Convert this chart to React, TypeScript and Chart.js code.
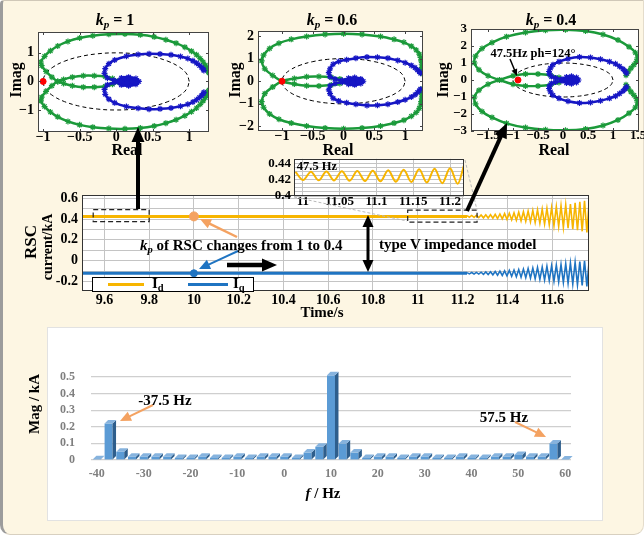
import React, { useEffect, useRef } from "react";
import { Chart, registerables } from "chart.js";
Chart.register(...registerables);

const FONT = "'Liberation Serif', 'Times New Roman', serif";
Chart.defaults.font.family = FONT;
Chart.defaults.color = "#000";

const GREEN = "#1B9A3A";
const BLUE = "#1616C4";
const YEL = "#F7B500";
const LBLUE = "#1F74C2";
const ORANGE = "#F4A261";

// ---------------- Nyquist data (Real, Imag) ----------------
const unitCircleX = [1, 0.966, 0.866, 0.707, 0.5, 0.259, 0, -0.259, -0.5, -0.707, -0.866, -0.966, -1, -0.966, -0.866, -0.707, -0.5, -0.259, 0, 0.259, 0.5, 0.707, 0.866, 0.966, 1];
const unitCircleY = [0, 0.259, 0.5, 0.707, 0.866, 0.966, 1, 0.966, 0.866, 0.707, 0.5, 0.259, 0, -0.259, -0.5, -0.707, -0.866, -0.966, -1, -0.966, -0.866, -0.707, -0.5, -0.259, 0];

// kp = 1
const kp1GreenA = [[0.02,0],[-0.05,0.1],[-0.15,0.17],[-0.3,0.2],[-0.45,0.2],[-0.6,0.15],[-0.72,0.07],[-0.8,0],[-0.88,-0.15],[-0.96,-0.35],[-1.02,-0.55],[-1.03,-0.68],[-0.98,-0.88],[-0.9,-1.07],[-0.8,-1.24],[-0.66,-1.4],[-0.5,-1.52],[-0.32,-1.6],[-0.1,-1.65],[0.12,-1.66],[0.33,-1.63],[0.52,-1.56],[0.68,-1.46],[0.82,-1.34],[0.94,-1.2],[1.03,-1.06],[1.1,-0.93],[1.15,-0.8],[1.19,-0.68],[1.22,-0.57],[1.24,-0.48],[1.25,-0.41],[1.26,-0.35],[1.27,-0.3]];
const kp1GreenB = [[0.02,0],[-0.05,-0.1],[-0.15,-0.17],[-0.3,-0.2],[-0.45,-0.2],[-0.6,-0.15],[-0.72,-0.07],[-0.8,0],[-0.88,0.15],[-0.96,0.35],[-1.02,0.55],[-1.03,0.68],[-0.98,0.88],[-0.9,1.07],[-0.8,1.24],[-0.66,1.4],[-0.5,1.52],[-0.32,1.6],[-0.1,1.65],[0.12,1.66],[0.33,1.63],[0.52,1.56],[0.68,1.46],[0.82,1.34],[0.94,1.2],[1.03,1.06],[1.1,0.93],[1.15,0.8],[1.19,0.68],[1.22,0.57],[1.24,0.48],[1.25,0.41],[1.26,0.35],[1.27,0.3]];
const kp1BlueA = [[-0.03,0.04],[-0.12,0.12],[-0.16,0.28],[-0.15,0.45],[-0.1,0.62],[-0.02,0.75],[0.14,0.88],[0.3,0.94],[0.45,0.97],[0.6,0.96],[0.75,0.93],[0.88,0.87],[0.98,0.8],[1.05,0.72],[1.1,0.64],[1.14,0.56],[1.17,0.49],[1.19,0.43],[1.2,0.38]];
const kp1BlueB = [[-0.03,-0.04],[-0.12,-0.12],[-0.16,-0.28],[-0.15,-0.45],[-0.1,-0.62],[-0.02,-0.75],[0.14,-0.88],[0.3,-0.94],[0.45,-0.97],[0.6,-0.96],[0.75,-0.93],[0.88,-0.87],[0.98,-0.8],[1.05,-0.72],[1.1,-0.64],[1.14,-0.56],[1.17,-0.49],[1.19,-0.43],[1.2,-0.38]];
const kp1Blob = [[0.03,0],[0.07,0.12],[0.17,0.15],[0.27,0.1],[0.31,0],[0.27,-0.1],[0.17,-0.15],[0.07,-0.12],[0.03,0],[0.1,0.07],[0.2,0.09],[0.26,0.03],[0.26,-0.03],[0.2,-0.09],[0.1,-0.07],[0.04,0],[0.15,0.04],[0.22,0],[0.15,-0.04],[0.06,0]];
const kp1Dot = [-1, 0];

// kp = 0.6
const kp06GreenA = [[0.02,0],[-0.06,0.1],[-0.2,0.17],[-0.4,0.21],[-0.6,0.2],[-0.8,0.12],[-1.0,0],[-1.15,-0.25],[-1.28,-0.55],[-1.33,-0.9],[-1.3,-1.15],[-1.2,-1.45],[-1.05,-1.68],[-0.85,-1.85],[-0.6,-1.98],[-0.3,-2.07],[0,-2.1],[0.3,-2.07],[0.6,-1.98],[0.82,-1.85],[0.98,-1.72],[1.1,-1.55],[1.18,-1.38],[1.23,-1.2],[1.25,-1.05],[1.26,-0.9],[1.27,-0.75],[1.27,-0.6],[1.27,-0.45],[1.27,-0.35]];
const kp06GreenB = [[0.02,0],[-0.06,-0.1],[-0.2,-0.17],[-0.4,-0.21],[-0.6,-0.2],[-0.8,-0.12],[-1.0,0],[-1.15,0.25],[-1.28,0.55],[-1.33,0.9],[-1.3,1.15],[-1.2,1.45],[-1.05,1.68],[-0.85,1.85],[-0.6,1.98],[-0.3,2.07],[0,2.1],[0.3,2.07],[0.6,1.98],[0.82,1.85],[0.98,1.72],[1.1,1.55],[1.18,1.38],[1.23,1.2],[1.25,1.05],[1.26,0.9],[1.27,0.75],[1.27,0.6],[1.27,0.45],[1.27,0.35]];
const kp06BlueA = [[-0.02,0.04],[-0.14,0.1],[-0.22,0.2],[-0.24,0.38],[-0.22,0.55],[-0.17,0.75],[-0.08,0.87],[0.05,0.95],[0.2,1.02],[0.38,1.07],[0.55,1.06],[0.72,1.02],[0.88,0.92],[1.0,0.82],[1.1,0.7],[1.16,0.6],[1.2,0.5],[1.23,0.42],[1.25,0.35]];
const kp06BlueB = [[-0.02,-0.04],[-0.14,-0.1],[-0.22,-0.2],[-0.24,-0.38],[-0.22,-0.55],[-0.17,-0.75],[-0.08,-0.87],[0.05,-0.95],[0.2,-1.02],[0.38,-1.07],[0.55,-1.06],[0.72,-1.02],[0.88,-0.92],[1.0,-0.82],[1.1,-0.7],[1.16,-0.6],[1.2,-0.5],[1.23,-0.42],[1.25,-0.35]];
const kp06Blob = [[0.03,0],[0.08,0.13],[0.18,0.16],[0.28,0.1],[0.32,0],[0.28,-0.1],[0.18,-0.16],[0.08,-0.13],[0.03,0],[0.1,0.08],[0.2,0.1],[0.27,0.04],[0.27,-0.04],[0.2,-0.1],[0.1,-0.08],[0.04,0],[0.15,0.05],[0.23,0],[0.15,-0.05],[0.06,0]];
const kp06Dot = [-1, 0];

// kp = 0.4
const kp04GreenA = [[0.02,0],[-0.08,0.15],[-0.25,0.28],[-0.5,0.35],[-0.75,0.35],[-1.0,0.25],[-1.27,0],[-1.5,-0.25],[-1.68,-0.6],[-1.77,-1.0],[-1.75,-1.4],[-1.62,-1.85],[-1.42,-2.2],[-1.13,-2.55],[-0.75,-2.8],[-0.35,-2.93],[0.05,-2.96],[0.45,-2.88],[0.8,-2.68],[1.1,-2.35],[1.32,-1.95],[1.45,-1.6],[1.49,-1.3],[1.47,-1.1],[1.42,-0.9],[1.36,-0.7],[1.31,-0.52],[1.28,-0.38],[1.26,-0.28]];
const kp04GreenB = [[0.02,0],[-0.08,-0.15],[-0.25,-0.28],[-0.5,-0.35],[-0.75,-0.35],[-1.0,-0.25],[-1.27,0],[-1.5,0.25],[-1.68,0.6],[-1.77,1.0],[-1.75,1.4],[-1.62,1.85],[-1.42,2.2],[-1.13,2.55],[-0.75,2.8],[-0.35,2.93],[0.05,2.96],[0.45,2.88],[0.8,2.68],[1.1,2.35],[1.32,1.95],[1.45,1.6],[1.49,1.3],[1.47,1.1],[1.42,0.9],[1.36,0.7],[1.31,0.52],[1.28,0.38],[1.26,0.28]];
const kp04BlueA = [[-0.02,0.05],[-0.15,0.12],[-0.23,0.2],[-0.27,0.35],[-0.28,0.5],[-0.25,0.7],[-0.2,0.9],[-0.08,1.08],[0.1,1.25],[0.33,1.35],[0.55,1.32],[0.75,1.22],[0.93,1.08],[1.05,0.95],[1.13,0.8],[1.2,0.65],[1.24,0.52],[1.27,0.4]];
const kp04BlueB = [[-0.02,-0.05],[-0.15,-0.12],[-0.23,-0.2],[-0.27,-0.35],[-0.28,-0.5],[-0.25,-0.7],[-0.2,-0.9],[-0.08,-1.08],[0.1,-1.25],[0.33,-1.35],[0.55,-1.32],[0.75,-1.22],[0.93,-1.08],[1.05,-0.95],[1.13,-0.8],[1.2,-0.65],[1.24,-0.52],[1.27,-0.4]];
const kp04Blob = [[0.03,0],[0.07,0.17],[0.17,0.22],[0.27,0.14],[0.31,0],[0.27,-0.14],[0.17,-0.22],[0.07,-0.17],[0.03,0],[0.1,0.1],[0.2,0.12],[0.26,0.05],[0.26,-0.05],[0.2,-0.12],[0.1,-0.1],[0.04,0],[0.15,0.06],[0.22,0],[0.15,-0.06],[0.06,0]];
const kp04Dot = [-0.9, 0];

const nyqXTicks12 = [-1, -0.5, 0, 0.5, 1];
const nyqXTicks3 = [-1.5, -1, -0.5, 0, 0.5, 1, 1.5];
const nyqYTicks1 = [-1, 0, 1];
const nyqYTicks2 = [-2, -1, 0, 1, 2];
const nyqYTicks3 = [-3, -2, -1, 0, 1, 2, 3];

// ---------------- Time-domain data ----------------
const timeSteady = [9.5, 11.22];
const idSteady = [0.425, 0.425];
const iqSteady = [-0.12, -0.12];
const oscTime = [11.22,11.2305,11.241,11.2515,11.262,11.2725,11.283,11.2935,11.304,11.3145,11.325,11.3355,11.346,11.3565,11.367,11.3775,11.388,11.3985,11.409,11.4195,11.43,11.4405,11.451,11.4615,11.472,11.4825,11.493,11.5035,11.514,11.5245,11.535,11.5455,11.556,11.5665,11.577,11.5875,11.598,11.6085,11.619,11.6295,11.64,11.6505,11.661,11.6715,11.682,11.6925,11.703,11.7135,11.724,11.7345,11.745,11.7555,11.766];
const idOsc = [0.433,0.417,0.434,0.416,0.436,0.414,0.438,0.411,0.44,0.409,0.442,0.407,0.445,0.404,0.448,0.401,0.452,0.397,0.455,0.393,0.46,0.389,0.465,0.383,0.47,0.378,0.476,0.372,0.482,0.366,0.488,0.359,0.495,0.352,0.502,0.345,0.51,0.337,0.518,0.329,0.527,0.32,0.535,0.311,0.544,0.302,0.554,0.292,0.564,0.282,0.574,0.271,0.58];
const iqOsc = [-0.114,-0.126,-0.113,-0.127,-0.112,-0.128,-0.11,-0.13,-0.108,-0.132,-0.106,-0.135,-0.103,-0.138,-0.1,-0.141,-0.097,-0.145,-0.093,-0.149,-0.089,-0.153,-0.085,-0.157,-0.08,-0.162,-0.075,-0.167,-0.07,-0.173,-0.065,-0.178,-0.06,-0.184,-0.054,-0.19,-0.048,-0.196,-0.042,-0.202,-0.036,-0.209,-0.029,-0.216,-0.022,-0.223,-0.015,-0.23,-0.008,-0.237,-0.001,-0.245,0.005];
const markTime = [10];
const markId = [0.425];
const markIq = [-0.12];
const mainXTicks = [9.6, 9.8, 10, 10.2, 10.4, 10.6, 10.8, 11, 11.2, 11.4, 11.6];
const mainYTicks = [-0.2, -0.1, 0, 0.1, 0.2, 0.3, 0.4, 0.5, 0.6];
const zoomBoxes = [
  { x0: 9.55, x1: 9.8, y0: 0.375, y1: 0.49 },
  { x0: 10.955, x1: 11.265, y0: 0.37, y1: 0.485 },
];

// inset (zoom of 10.99 - 11.22 s)
const insetTime = [10.99,11.0005,11.011,11.0215,11.032,11.0425,11.053,11.0635,11.074,11.0845,11.095,11.1055,11.116,11.1265,11.137,11.1475,11.158,11.1685,11.179,11.1895,11.2,11.2105,11.219];
const insetId = [0.4295,0.4195,0.4298,0.4192,0.43,0.419,0.4303,0.4187,0.4306,0.4183,0.431,0.418,0.4315,0.4175,0.432,0.417,0.4326,0.4164,0.4333,0.4157,0.434,0.415,0.4375];
const insetXTicks = [11, 11.05, 11.1, 11.15, 11.2];
const insetYTicks = [0.4, 0.405, 0.41, 0.415, 0.42, 0.425, 0.43, 0.435, 0.44, 0.445];

// ---------------- Spectrum data ----------------
const fftFreq = [-40,-37.5,-35,-32.5,-30,-27.5,-25,-22.5,-20,-17.5,-15,-12.5,-10,-7.5,-5,-2.5,0,2.5,5,7.5,10,12.5,15,17.5,20,22.5,25,27.5,30,32.5,35,37.5,40,42.5,45,47.5,50,52.5,55,57.5,60];
const fftMag = [0.005,0.22,0.05,0.02,0.02,0.02,0.02,0.012,0.012,0.02,0.012,0.012,0.02,0.012,0.02,0.02,0.02,0.012,0.045,0.08,0.51,0.1,0.045,0.012,0.02,0.02,0.012,0.02,0.02,0.012,0.012,0.02,0.012,0.012,0.02,0.02,0.03,0.02,0.02,0.1,0.003];
const fftYTicks = [0, 0.1, 0.2, 0.3, 0.4, 0.5];

// ---------------- helpers ----------------
type Box = { left: number; top: number; width: number; height: number };
type Area = { l: number; t: number; r: number; b: number };

const P = (arr: number[][]) => arr.map(([x, y]) => ({ x, y }));
const Z = (xs: number[], ys: number[]) => xs.map((x, i) => ({ x, y: ys[i] }));

function fit(box: Box, area: Area) {
  return {
    padding: { top: area.t - box.top, right: box.left + box.width - area.r, left: 0, bottom: 0 },
    yFit: (s: any) => { s.width = area.l - box.left; },
    xFit: (s: any) => { s.height = box.top + box.height - area.b; },
  };
}

const areaBg = {
  id: "areaBg",
  beforeDraw(chart: any) {
    const { ctx, chartArea: a } = chart;
    ctx.save();
    ctx.fillStyle = "#fff";
    ctx.fillRect(a.left, a.top, a.width, a.height);
    ctx.restore();
  },
};

const frame = {
  id: "frame",
  afterDraw(chart: any, _a: any, opts: any) {
    const { ctx, chartArea: a, scales } = chart;
    ctx.save();
    ctx.strokeStyle = opts.color || "#333";
    ctx.lineWidth = 1;
    ctx.strokeRect(Math.round(a.left) + 0.5, Math.round(a.top) + 0.5, Math.round(a.width) - 1, Math.round(a.height) - 1);
    if (opts.ticks) {
      const L = opts.ticks;
      ctx.beginPath();
      scales.x.ticks.forEach((t: any) => {
        const x = Math.round(scales.x.getPixelForValue(t.value)) + 0.5;
        ctx.moveTo(x, a.bottom); ctx.lineTo(x, a.bottom - L);
        ctx.moveTo(x, a.top); ctx.lineTo(x, a.top + L);
      });
      scales.y.ticks.forEach((t: any) => {
        const y = Math.round(scales.y.getPixelForValue(t.value)) + 0.5;
        ctx.moveTo(a.left, y); ctx.lineTo(a.left + L, y);
        ctx.moveTo(a.right, y); ctx.lineTo(a.right - L, y);
      });
      ctx.stroke();
    }
    ctx.restore();
  },
};

const dashBoxes = {
  id: "dashBoxes",
  afterDatasetsDraw(chart: any, _a: any, opts: any) {
    const { ctx, scales } = chart;
    ctx.save();
    ctx.strokeStyle = "#222";
    ctx.lineWidth = 1.2;
    ctx.setLineDash([5, 3]);
    (opts.boxes || []).forEach((b: any) => {
      const x0 = scales.x.getPixelForValue(b.x0), x1 = scales.x.getPixelForValue(b.x1);
      const y0 = scales.y.getPixelForValue(b.y0), y1 = scales.y.getPixelForValue(b.y1);
      ctx.strokeRect(x0, y1, x1 - x0, y0 - y1);
    });
    ctx.restore();
  },
};

const bar3d = {
  id: "bar3d",
  afterDatasetsDraw(chart: any) {
    const meta = chart.getDatasetMeta(0);
    const ctx = chart.ctx;
    const d = 3.5, dy = 3.5;
    ctx.save();
    meta.data.forEach((bar: any) => {
      const { x, y, base, width } = bar.getProps(["x", "y", "base", "width"], true);
      const l = x - width / 2, r = x + width / 2;
      ctx.fillStyle = "#2E5E8C";
      ctx.beginPath();
      ctx.moveTo(r, y); ctx.lineTo(r + d, y - dy); ctx.lineTo(r + d, base - dy); ctx.lineTo(r, base);
      ctx.closePath(); ctx.fill();
      ctx.fillStyle = "#86B3DE";
      ctx.beginPath();
      ctx.moveTo(l, y); ctx.lineTo(l + d, y - dy); ctx.lineTo(r + d, y - dy); ctx.lineTo(r, y);
      ctx.closePath(); ctx.fill();
    });
    ctx.restore();
  },
};

const minus = (v: number, s: string) => (v < 0 ? "\u2212" + s.replace("-", "") : s);

function nyquistConfig(o: any) {
  const lay = fit(o.box, o.area);
  const line = (data: number[][], color: string, w: number, tension = 0.35) => ({
    data: P(data), showLine: true, borderColor: color, backgroundColor: color, borderWidth: w,
    pointStyle: "star", pointRadius: 3, pointBorderColor: color, pointBorderWidth: 1.2, tension,
  });
  const tickFont = { family: FONT, size: o.tickSize || 14, weight: "bold" as const };
  return {
    type: "scatter",
    data: {
      datasets: [
        { data: [{ x: o.dot[0], y: o.dot[1] }], pointRadius: 3, pointBackgroundColor: "#f00", pointBorderColor: "#f00", showLine: false },
        line(o.blob, BLUE, 2.5, 0.5),
        line(o.blueA, BLUE, 2.5),
        line(o.blueB, BLUE, 2.5),
        line(o.greenA, GREEN, 2.5),
        line(o.greenB, GREEN, 2.5),
        { data: Z(unitCircleX, unitCircleY), showLine: true, borderColor: "#000", borderWidth: 1, borderDash: [4, 3], pointRadius: 0, tension: 0.4 },
      ],
    },
    options: {
      responsive: false, animation: false, devicePixelRatio: 1, events: [],
      layout: { padding: lay.padding },
      plugins: { legend: { display: false }, tooltip: { enabled: false }, frame: { color: "#444", ticks: 3 } },
      scales: {
        x: {
          type: "linear", min: o.xr[0], max: o.xr[1],
          grid: { display: false, drawTicks: false }, border: { display: false },
          afterBuildTicks: (s: any) => { s.ticks = o.xTicks.map((v: number) => ({ value: v })); },
          ticks: { font: tickFont, color: "#000", padding: -3, autoSkip: false, maxRotation: 0, callback: (v: any) => minus(v, String(v)) },
          afterFit: lay.xFit,
        },
        y: {
          type: "linear", min: o.yr[0], max: o.yr[1],
          grid: { display: false, drawTicks: false }, border: { display: false },
          afterBuildTicks: (s: any) => { s.ticks = o.yTicks.map((v: number) => ({ value: v })); },
          ticks: { font: tickFont, color: "#000", padding: 4, autoSkip: false, callback: (v: any) => minus(v, String(v)) },
          afterFit: lay.yFit,
        },
      },
    },
    plugins: [areaBg, frame],
  };
}

const box1: Box = { left: 0, top: 15, width: 225, height: 140 };
const area1: Area = { l: 38, t: 32, r: 209, b: 132 };
const box2: Box = { left: 215, top: 15, width: 222, height: 140 };
const area2: Area = { l: 258, t: 31, r: 423, b: 131 };
const box3: Box = { left: 428, top: 12, width: 236, height: 143 };
const area3: Area = { l: 471, t: 29, r: 639, b: 131 };

function mainConfig() {
  const box: Box = { left: 0, top: 180, width: 610, height: 135 };
  const lay = fit(box, { l: 82, t: 195, r: 589, b: 291 });
  const tickFont = { family: FONT, size: 14, weight: "bold" as const };
  return {
    type: "scatter",
    data: {
      datasets: [
        { data: Z(markTime, markId), pointRadius: 4.5, pointBackgroundColor: ORANGE, pointBorderColor: ORANGE, showLine: false },
        { data: Z(markTime, markIq), pointRadius: 3.5, pointBackgroundColor: LBLUE, pointBorderColor: LBLUE, showLine: false },
        { data: Z(timeSteady, idSteady), showLine: true, borderColor: YEL, borderWidth: 3, pointRadius: 0 },
        { data: Z(oscTime, idOsc), showLine: true, borderColor: YEL, borderWidth: 1.6, pointRadius: 0 },
        { data: Z(timeSteady, iqSteady), showLine: true, borderColor: LBLUE, borderWidth: 3, pointRadius: 0 },
        { data: Z(oscTime, iqOsc), showLine: true, borderColor: LBLUE, borderWidth: 1.6, pointRadius: 0 },
      ],
    },
    options: {
      responsive: false, animation: false, devicePixelRatio: 1, events: [],
      layout: { padding: lay.padding },
      plugins: { legend: { display: false }, tooltip: { enabled: false }, frame: { color: "#333" }, dashBoxes: { boxes: zoomBoxes } },
      scales: {
        x: {
          type: "linear", min: 9.5, max: 11.765,
          grid: { color: "#c4c4c4", drawTicks: false }, border: { display: false },
          afterBuildTicks: (s: any) => { s.ticks = mainXTicks.map((v) => ({ value: v })); },
          ticks: { font: tickFont, color: "#000", padding: 1, autoSkip: false, maxRotation: 0, callback: (v: any) => String(Number(Number(v).toFixed(1))) },
          afterFit: lay.xFit,
        },
        y: {
          type: "linear", min: -0.29, max: 0.63,
          grid: { color: "#c4c4c4", drawTicks: false }, border: { display: false },
          afterBuildTicks: (s: any) => { s.ticks = mainYTicks.map((v) => ({ value: v })); },
          ticks: {
            font: tickFont, color: "#000", padding: 4, autoSkip: false,
            callback: (v: any) => (Math.round(v * 10) % 2 === 0 ? String(Number(Number(v).toFixed(1))) : ""),
          },
          afterFit: lay.yFit,
        },
      },
    },
    plugins: [areaBg, dashBoxes, frame],
  };
}

function insetConfig() {
  const box: Box = { left: 245, top: 148, width: 235, height: 62 };
  const lay = fit(box, { l: 294, t: 158, r: 464, b: 196 });
  const tickFont = { family: FONT, size: 13, weight: "bold" as const };
  return {
    type: "scatter",
    data: {
      datasets: [
        { data: Z(insetTime, insetId), showLine: true, borderColor: YEL, borderWidth: 2, pointRadius: 0, cubicInterpolationMode: "monotone" },
      ],
    },
    options: {
      responsive: false, animation: false, devicePixelRatio: 1, events: [],
      layout: { padding: lay.padding },
      plugins: { legend: { display: false }, tooltip: { enabled: false }, frame: { color: "#333" } },
      scales: {
        x: {
          type: "linear", min: 10.988, max: 11.219,
          grid: { color: "#c4c4c4", drawTicks: false }, border: { display: false },
          afterBuildTicks: (s: any) => { s.ticks = insetXTicks.map((v) => ({ value: v })); },
          ticks: { font: tickFont, color: "#000", padding: -2, autoSkip: false, maxRotation: 0, callback: (v: any) => String(Number(Number(v).toFixed(2))) },
          afterFit: lay.xFit,
        },
        y: {
          type: "linear", min: 0.4, max: 0.4455,
          grid: { color: "#c4c4c4", drawTicks: false }, border: { display: false },
          afterBuildTicks: (s: any) => { s.ticks = insetYTicks.map((v) => ({ value: v })); },
          ticks: {
            font: tickFont, color: "#000", padding: 3, autoSkip: false,
            callback: (v: any) => { const m = Math.round(v * 1000); return m === 400 ? "0.4" : m === 420 ? "0.42" : m === 440 ? "0.44" : ""; },
          },
          afterFit: lay.yFit,
        },
      },
    },
    plugins: [areaBg, frame],
  };
}

function fftConfig() {
  const box: Box = { left: 48, top: 335, width: 550, height: 150 };
  const lay = fit(box, { l: 91, t: 377, r: 571, b: 460 });
  const tickFont = { family: FONT, size: 12, weight: "bold" as const };
  return {
    type: "bar",
    data: {
      labels: fftFreq.map(String),
      datasets: [{ data: fftMag, backgroundColor: "#5B9BD5", barPercentage: 0.68, categoryPercentage: 1, clip: false }],
    },
    options: {
      responsive: false, animation: false, devicePixelRatio: 1, events: [],
      layout: { padding: lay.padding },
      plugins: { legend: { display: false }, tooltip: { enabled: false } },
      scales: {
        x: {
          grid: { display: false, drawTicks: false }, border: { display: false },
          ticks: { font: tickFont, color: "#7f7f7f", padding: 7, autoSkip: false, maxRotation: 0, callback: (_v: any, i: number) => (fftFreq[i] % 10 === 0 ? String(fftFreq[i]) : "") },
          afterFit: lay.xFit,
        },
        y: {
          min: 0, max: 0.5,
          grid: { color: "#cfcfcf", lineWidth: 1.2, drawTicks: false }, border: { display: false },
          afterBuildTicks: (s: any) => { s.ticks = fftYTicks.map((v) => ({ value: v })); },
          ticks: { font: tickFont, color: "#7f7f7f", padding: 16, autoSkip: false, callback: (v: any) => (v === 0 ? "0" : Number(v).toFixed(1)) },
          afterFit: lay.yFit,
        },
      },
    },
    plugins: [bar3d],
  };
}

function ChartBox({ box, make }: { box: Box; make: () => any }) {
  const ref = useRef<HTMLCanvasElement>(null);
  useEffect(() => {
    const chart = new Chart(ref.current as HTMLCanvasElement, make());
    return () => chart.destroy();
  }, []);
  return (
    <div style={{ position: "absolute", left: box.left, top: box.top, width: box.width, height: box.height }}>
      <canvas ref={ref} width={box.width} height={box.height} style={{ display: "block" }} />
    </div>
  );
}

function Txt({ x, y, size = 15, rot = false, left = false, children, style }: any) {
  return (
    <div
      style={{
        position: "absolute", left: x, top: y, fontFamily: FONT, fontWeight: "bold", fontSize: size,
        whiteSpace: "nowrap", lineHeight: 1, color: "#000",
        transform: left ? "translate(0,-50%)" : `translate(-50%,-50%)${rot ? " rotate(-90deg)" : ""}`,
        ...style,
      }}
    >
      {children}
    </div>
  );
}

const Kp = () => (
  <>
    <i>k</i>
    <sub style={{ fontSize: "0.7em", verticalAlign: "-0.3em", lineHeight: 0 }}><i>p</i></sub>
  </>
);

function Arrow({ x1, y1, x2, y2, color = "#000", w = 3, hl = 12, hw = 11, both = false }: any) {
  const dx = x2 - x1, dy = y2 - y1, len = Math.hypot(dx, dy);
  const ux = dx / len, uy = dy / len, px = -uy, py = ux;
  const head = (tx: number, ty: number, sx: number, sy: number) => {
    const bx = tx - sx * hl, by = ty - sy * hl;
    return `${tx},${ty} ${bx + (px * hw) / 2},${by + (py * hw) / 2} ${bx - (px * hw) / 2},${by - (py * hw) / 2}`;
  };
  const sx = both ? x1 + ux * hl * 0.8 : x1, sy = both ? y1 + uy * hl * 0.8 : y1;
  return (
    <g>
      <line x1={sx} y1={sy} x2={x2 - ux * hl * 0.8} y2={y2 - uy * hl * 0.8} stroke={color} strokeWidth={w} />
      <polygon points={head(x2, y2, ux, uy)} fill={color} />
      {both && <polygon points={head(x1, y1, -ux, -uy)} fill={color} />}
    </g>
  );
}

export default function App() {
  return (
    <div style={{ position: "fixed", left: 0, top: 0, width: 644, height: 538, overflow: "hidden", background: "#fff" }}>
      <div
        style={{
          position: "absolute", left: 0, top: 0, width: 640, height: 533, background: "#FDF6E3",
          borderLeft: "3px solid #9c9c9c", borderTop: "1px solid #d0c8b8", borderBottom: "1px solid #d8d0c0",
          borderRight: "1px solid #e4dccb", borderRadius: "4px 0 10px 10px",
        }}
      />
      <div style={{ position: "absolute", left: 47, top: 327, width: 554, height: 192, background: "#fff", border: "1px solid #e2e2e2" }} />

      <ChartBox box={box1} make={() => nyquistConfig({ box: box1, area: area1, xr: [-1.07, 1.27], yr: [-1.77, 1.73], xTicks: nyqXTicks12, yTicks: nyqYTicks1, greenA: kp1GreenA, greenB: kp1GreenB, blueA: kp1BlueA, blueB: kp1BlueB, blob: kp1Blob, dot: kp1Dot })} />
      <ChartBox box={box2} make={() => nyquistConfig({ box: box2, area: area2, xr: [-1.39, 1.29], yr: [-2.2, 2.22], xTicks: nyqXTicks12, yTicks: nyqYTicks2, greenA: kp06GreenA, greenB: kp06GreenB, blueA: kp06BlueA, blueB: kp06BlueB, blob: kp06Blob, dot: kp06Dot })} />
      <ChartBox box={box3} make={() => nyquistConfig({ box: box3, area: area3, xr: [-1.84, 1.52], yr: [-3, 3], xTicks: nyqXTicks3, yTicks: nyqYTicks3, greenA: kp04GreenA, greenB: kp04GreenB, blueA: kp04BlueA, blueB: kp04BlueB, blob: kp04Blob, dot: kp04Dot, tickSize: 13 })} />

      <ChartBox box={{ left: 0, top: 180, width: 610, height: 135 }} make={mainConfig} />
      <ChartBox box={{ left: 245, top: 148, width: 235, height: 62 }} make={insetConfig} />
      <ChartBox box={{ left: 48, top: 335, width: 550, height: 150 }} make={fftConfig} />

      <svg width={644} height={538} style={{ position: "absolute", left: 0, top: 0, pointerEvents: "none" }}>
        <line x1={294} y1={197} x2={407} y2={221} stroke="#b8b8b8" strokeWidth={1} strokeDasharray="3 2" />
        <line x1={465} y1={160} x2={477} y2={210} stroke="#b8b8b8" strokeWidth={1} strokeDasharray="3 2" />
        <Arrow x1={138} y1={209} x2={138} y2={127} w={4} hl={15} hw={13} />
        <Arrow x1={467} y1={211} x2={507} y2={123} w={4} hl={15} hw={13} />
        <Arrow x1={237} y1={237} x2={200} y2={219} color={ORANGE} w={2.5} hl={11} hw={10} />
        <Arrow x1={238} y1={251} x2={199} y2={269} color={LBLUE} w={2} hl={11} hw={10} />
        <Arrow x1={227} y1={265} x2={277} y2={265} w={4.5} hl={15} hw={13} />
        <Arrow x1={368} y1={215} x2={368} y2={272} w={3} hl={12} hw={11} both />
        <Arrow x1={510} y1={59} x2={517} y2={76} w={1.5} hl={7} hw={6} />
        <Arrow x1={153} y1={405} x2={120} y2={421} color={ORANGE} w={2} hl={11} hw={10} />
        <Arrow x1={515} y1={422} x2={546} y2={437} color={ORANGE} w={2} hl={11} hw={10} />
      </svg>

      {/* Nyquist titles and labels */}
      <Txt x={115} y={20} size={16}><Kp /> = 1</Txt>
      <Txt x={332} y={20} size={16}><Kp /> = 0.6</Txt>
      <Txt x={551} y={20} size={16}><Kp /> = 0.4</Txt>
      <Txt x={16} y={80} size={16} rot>Imag</Txt>
      <Txt x={235} y={80} size={16} rot>Imag</Txt>
      <Txt x={443} y={80} size={16} rot>Imag</Txt>
      <Txt x={127} y={150} size={16}>Real</Txt>
      <Txt x={338} y={150} size={16}>Real</Txt>
      <Txt x={554} y={150} size={16}>Real</Txt>
      <Txt x={509} y={53} size={12.5}>47.5Hz</Txt>
      <Txt x={553} y={53} size={12.5}>ph=124°</Txt>

      {/* time-domain labels */}
      <Txt x={317} y={166} size={12.5}>47.5 Hz</Txt>
      <Txt x={30} y={242} size={17} rot>RSC</Txt>
      <Txt x={48} y={247} size={14} rot>current/kA</Txt>
      <Txt x={322} y={312} size={15}>Time/s</Txt>
      <Txt x={140} y={245} size={15} left><Kp /> of RSC changes from 1 to 0.4</Txt>
      <Txt x={379} y={244} size={15} left>type V impedance model</Txt>

      <div style={{ position: "absolute", left: 92, top: 277, width: 160, height: 13, background: "#fff", border: "1px solid #000" }}>
        <div style={{ position: "absolute", left: 15, top: 5, width: 36, height: 3, background: YEL }} />
        <div style={{ position: "absolute", left: 95, top: 5, width: 40, height: 3, background: LBLUE }} />
      </div>
      <Txt x={152} y={283} size={15} left>I<sub style={{ fontSize: "0.7em", verticalAlign: "-0.3em", lineHeight: 0 }}>d</sub></Txt>
      <Txt x={233} y={283} size={15} left>I<sub style={{ fontSize: "0.7em", verticalAlign: "-0.3em", lineHeight: 0 }}>q</sub></Txt>

      {/* spectrum labels */}
      <Txt x={34} y={404} size={15} rot>Mag / kA</Txt>
      <Txt x={323} y={493} size={15}><i>f</i> / Hz</Txt>
      <Txt x={165} y={400} size={15}>-37.5 Hz</Txt>
      <Txt x={504} y={417} size={15}>57.5 Hz</Txt>
    </div>
  );
}
